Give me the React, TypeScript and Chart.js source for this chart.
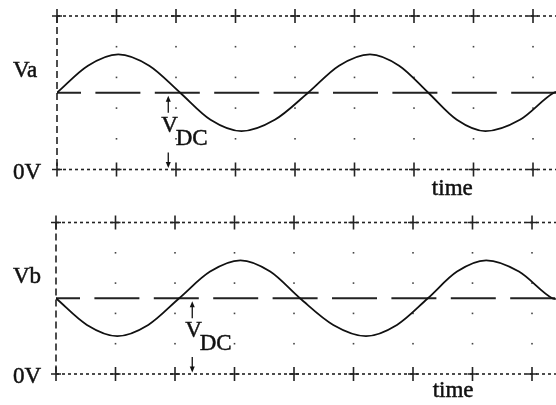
import { useEffect, useRef } from "react";
import { Chart, registerables } from "chart.js";

Chart.register(...registerables);

// Va waveform samples (time in grid divisions, volts in grid divisions)
const vaTime = [0, 0.52, 1.03, 1.55, 2.07, 2.58, 3.1, 3.66, 4.22, 4.74, 5.26, 5.75, 6.24, 6.72, 7.2, 7.78, 8.35, 8.4];
const vaVolts = [2.5, 3.38, 3.75, 3.38, 2.5, 1.62, 1.25, 1.62, 2.5, 3.38, 3.75, 3.38, 2.5, 1.62, 1.25, 1.62, 2.5, 2.53];

// Vb waveform samples
const vbTime = [0, 0.52, 1.03, 1.55, 2.07, 2.59, 3.1, 3.6, 4.1, 4.66, 5.21, 5.73, 6.25, 6.74, 7.23, 7.78, 8.34, 8.4];
const vbVolts = [2.5, 1.62, 1.25, 1.62, 2.5, 3.38, 3.75, 3.38, 2.5, 1.62, 1.25, 1.62, 2.5, 3.38, 3.75, 3.38, 2.5, 2.47];

// DC level shared by both traces
const vdc = 2.5;

// Graticule
const gridCols = [0, 1, 2, 3, 4, 5, 6, 7, 8];
const gridRows = [0, 1, 2, 3, 4, 5];
const yMax = 5;

const FONT = '23px "Liberation Serif", "DejaVu Serif", serif';
const INK = "#111";

type PanelOpts = {
  name: string;
  arrowX: number;
  timeX: number;
  timeOffset: number;
};

function arrow(ctx: CanvasRenderingContext2D, x: number, tail: number, tip: number) {
  const dir = tip < tail ? -1 : 1;
  ctx.beginPath();
  ctx.moveTo(x, tail);
  ctx.lineTo(x, tip - dir * 5);
  ctx.stroke();
  ctx.beginPath();
  ctx.moveTo(x, tip);
  ctx.lineTo(x - 2.5, tip - dir * 6);
  ctx.lineTo(x + 2.5, tip - dir * 6);
  ctx.closePath();
  ctx.fill();
}

// slightly heavier text, like a photocopied figure
function inkText(ctx: CanvasRenderingContext2D, s: string, x: number, y: number) {
  ctx.fillText(s, x, y);
  ctx.strokeText(s, x, y);
}

const scopePlugin = {
  id: "scope",
  beforeDatasetsDraw(chart: any, _args: any, opts: PanelOpts) {
    const { ctx, chartArea: a, scales } = chart;
    const x = scales.x;
    const y = scales.y;
    ctx.save();
    // graticule dots
    ctx.fillStyle = "#444";
    for (const c of gridCols) {
      if (c === 0) continue;
      for (const r of gridRows) {
        if (r === 0 || r === yMax) continue;
        const px = x.getPixelForValue(c);
        const py = y.getPixelForValue(r);
        ctx.fillRect(px - 0.8, py - 0.8, 1.6, 1.6);
      }
    }
    ctx.strokeStyle = "#222";
    ctx.lineWidth = 1.6;
    // dotted top and 0V lines
    ctx.setLineDash([3, 3]);
    for (const r of [0, yMax]) {
      const py = y.getPixelForValue(r);
      ctx.beginPath();
      ctx.moveTo(a.left, py);
      ctx.lineTo(a.right, py);
      ctx.stroke();
    }
    // dashed left axis
    ctx.setLineDash([7, 4]);
    ctx.beginPath();
    ctx.moveTo(a.left, a.top);
    ctx.lineTo(a.left, a.bottom);
    ctx.stroke();
    // plus-shaped ticks
    ctx.setLineDash([]);
    for (const c of gridCols) {
      const px = x.getPixelForValue(c);
      for (const r of [0, yMax]) {
        const py = y.getPixelForValue(r);
        ctx.beginPath();
        ctx.moveTo(px, py - 7);
        ctx.lineTo(px, py + 7);
        ctx.moveTo(px - 5, py);
        ctx.lineTo(px + 5, py);
        ctx.stroke();
      }
    }
    ctx.restore();
  },
  afterDraw(chart: any, _args: any, opts: PanelOpts) {
    const { ctx, scales } = chart;
    const x = scales.x;
    const y = scales.y;
    const y0 = y.getPixelForValue(0);
    const yDC = y.getPixelForValue(vdc);
    const ax = x.getPixelForValue(opts.arrowX);
    ctx.save();
    ctx.fillStyle = INK;
    ctx.strokeStyle = INK;
    ctx.font = FONT;
    ctx.textAlign = "left";
    ctx.textBaseline = "alphabetic";
    ctx.lineWidth = 0.5;
    inkText(ctx, opts.name, 13, y.getPixelForValue(3));
    inkText(ctx, "0V", 13, y0 + 9);
    inkText(ctx, "time", x.getPixelForValue(opts.timeX), y0 + opts.timeOffset);
    // V_DC label with arrows
    inkText(ctx, "V", ax - 7, yDC + 39);
    inkText(ctx, "DC", ax + 7.5, yDC + 52);
    ctx.lineWidth = 1.3;
    arrow(ctx, ax, yDC + 20, yDC + 3);
    arrow(ctx, ax, y0 - 17, y0 - 1.5);
    ctx.restore();
  },
};

function makeConfig(
  time: number[],
  volts: number[],
  pad: { left: number; top: number; bottom: number },
  panel: PanelOpts
): any {
  const xMax = (556 - pad.left) / 59.5;
  return {
    type: "line",
    data: {
      datasets: [
        {
          data: time.map((t, i) => ({ x: t, y: volts[i] })),
          borderColor: INK,
          borderWidth: 1.8,
          pointRadius: 0,
          cubicInterpolationMode: "monotone",
          fill: false,
        },
        {
          data: [
            { x: 0, y: vdc },
            { x: xMax, y: vdc },
          ],
          borderColor: "#222",
          borderWidth: 2,
          borderDash: [45, 14.4],
          borderDashOffset: 21,
          pointRadius: 0,
          fill: false,
        },
      ],
    },
    options: {
      responsive: false,
      animation: false,
      events: [],
      layout: { padding: { left: pad.left, right: 0, top: pad.top, bottom: pad.bottom } },
      scales: {
        x: { type: "linear", min: 0, max: xMax, display: false },
        y: { type: "linear", min: 0, max: yMax, display: false },
      },
      plugins: {
        legend: { display: false },
        tooltip: { enabled: false },
        scope: panel,
      },
    },
    plugins: [scopePlugin],
  };
}

export default function App() {
  const topRef = useRef<HTMLCanvasElement>(null);
  const botRef = useRef<HTMLCanvasElement>(null);

  useEffect(() => {
    const top = new Chart(
      topRef.current!,
      makeConfig(vaTime, vaVolts, { left: 57, top: 16, bottom: 30.5 }, {
        name: "Va",
        arrowX: 1.87,
        timeX: 6.3,
        timeOffset: 25.5,
      })
    );
    const bot = new Chart(
      botRef.current!,
      makeConfig(vbTime, vbVolts, { left: 56, top: 22.5, bottom: 31 }, {
        name: "Vb",
        arrowX: 2.29,
        timeX: 6.33,
        timeOffset: 22.5,
      })
    );
    return () => {
      top.destroy();
      bot.destroy();
    };
  }, []);

  return (
    <div style={{ position: "absolute", left: 0, top: 0, width: 556, height: 405, background: "#fff" }}>
      <canvas ref={topRef} width={556} height={200} style={{ position: "absolute", left: 0, top: 0, display: "block" }} />
      <canvas ref={botRef} width={556} height={205} style={{ position: "absolute", left: 0, top: 200, display: "block" }} />
    </div>
  );
}
